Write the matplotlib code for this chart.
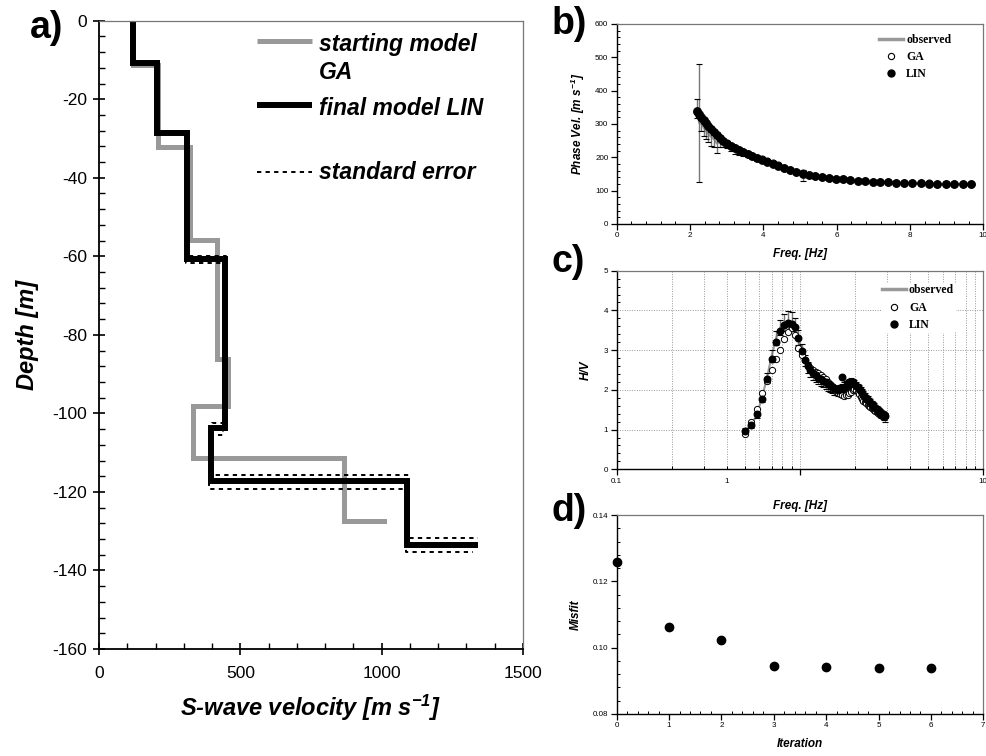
import numpy as np
import matplotlib
matplotlib.use('Agg')
import matplotlib.pyplot as plt
from matplotlib.lines import Line2D
from matplotlib.ticker import MultipleLocator, FixedLocator, LogLocator, NullFormatter, FormatStrFormatter

plt.rcParams['font.family'] = ['Liberation Sans', 'DejaVu Sans']
plt.rcParams['mathtext.default'] = 'regular'
plt.rcParams['axes.unicode_minus'] = False

# ---------------- data ----------------
# a) layered S-wave velocity models (velocity of each layer, depth of interfaces)
ga_vs = [119, 209, 322, 419, 458, 334, 865, 1009]
ga_depth = [11.2, 32.1, 55.8, 86.2, 98.2, 111.4, 127.5]
lin_vs = [119, 204, 310, 444, 395, 1089, 1331]
lin_depth = [10.8, 28.5, 60.7, 103.7, 117.3, 133.6]
errp_vs = [119, 204, 312, 448, 400, 1097, 1342]
errp_depth = [10.8, 28.5, 59.9, 102.5, 115.6, 131.8]
errm_vs = [119, 204, 307, 439, 390, 1085, 1324]
errm_depth = [10.8, 28.5, 61.7, 105.5, 119.2, 135.4]

# b) dispersion curve
freq_b = [2.20, 2.25, 2.31, 2.37, 2.43, 2.50, 2.57, 2.65, 2.73, 2.82,
          2.91, 3.01, 3.11, 3.22, 3.33, 3.45, 3.57, 3.70, 3.83, 3.97,
          4.11, 4.26, 4.41, 4.57, 4.73, 4.90, 5.07, 5.24, 5.42, 5.60,
          5.79, 5.98, 6.17, 6.37, 6.57, 6.77, 6.98, 7.19, 7.40, 7.62,
          7.84, 8.06, 8.29, 8.52, 8.75, 8.98, 9.21, 9.44, 9.67]
vel_lin = [339, 330, 321, 312, 303, 294, 285, 275, 266, 257,
           249, 241, 234, 227, 221, 215, 209, 204, 199, 193,
           187, 181, 175, 168, 162, 156, 151, 147, 144, 141,
           138, 136, 134, 132, 130, 128, 127, 126, 125, 124,
           123, 122, 122, 121, 121, 121, 120, 120, 120]
vel_ga = [336, 328, 319, 310, 302, 293, 284, 275, 266, 258,
          250, 242, 235, 228, 222, 216, 210, 204, 199, 194,
          188, 182, 176, 169, 163, 157, 152, 148, 144, 141,
          139, 136, 134, 132, 130, 129, 127, 126, 125, 124,
          123, 123, 122, 122, 121, 121, 121, 120, 120]
vel_obs = [346, 303, 300, 290, 280, 270, 262, 255, 242, 245,
           240, 236, 228, 220, 214, 210, 205, 200, 196, 191,
           186, 180, 173, 167, 161, 156, 146, 146, 143, 140,
           137, 135, 133, 131, 129, 128, 127, 126, 125, 124,
           123, 122, 122, 121, 121, 121, 121, 120, 120]
vel_err = [29, 178, 20, 25, 25, 25, 28, 25, 30, 15,
           10, 8, 8, 10, 8, 6, 5, 5, 6, 6,
           7, 6, 5, 4, 4, 4, 17, 4, 3, 3,
           3, 3, 3, 3, 3, 3, 3, 3, 3, 5,
           3, 3, 3, 3, 3, 8, 3, 3, 3]

# c) H/V curve
freq_c = [0.50, 0.54, 0.58, 0.62, 0.66, 0.70, 0.74, 0.78, 0.82, 0.86,
          0.90, 0.94, 0.98, 1.02, 1.06, 1.10, 1.14, 1.18, 1.22, 1.26,
          1.30, 1.34, 1.38, 1.42, 1.46, 1.50, 1.54, 1.58, 1.62, 1.66,
          1.70, 1.74, 1.78, 1.82, 1.86, 1.90, 1.94, 1.98, 2.02, 2.06,
          2.10, 2.14, 2.18, 2.22, 2.26, 2.30, 2.34, 2.38, 2.42, 2.46,
          2.50, 2.54, 2.58, 2.62, 2.66, 2.70, 2.74, 2.78, 2.82, 2.86, 2.90]
hv_lin = [0.96, 1.12, 1.40, 1.78, 2.27, 2.78, 3.20, 3.48, 3.63, 3.68,
          3.66, 3.57, 3.30, 2.98, 2.76, 2.60, 2.50, 2.42, 2.37, 2.31,
          2.27, 2.23, 2.19, 2.15, 2.11, 2.08, 2.05, 2.02, 2.00, 2.02,
          2.33, 2.05, 2.09, 2.13, 2.16, 2.18, 2.17, 2.14, 2.10, 2.06,
          2.02, 1.97, 1.93, 1.88, 1.83, 1.78, 1.75, 1.71, 1.68, 1.64,
          1.61, 1.58, 1.55, 1.52, 1.49, 1.46, 1.43, 1.40, 1.38, 1.35, 1.33]
hv_ga = [0.88, 1.20, 1.52, 1.93, 2.22, 2.50, 2.78, 3.00, 3.28, 3.45,
         3.55, 3.38, 3.05, 2.88, 2.76, 2.63, 2.55, 2.49, 2.46, 2.42,
         2.38, 2.32, 2.27, 2.21, 2.15, 2.09, 2.03, 1.98, 1.93, 1.89,
         1.86, 1.85, 1.86, 1.88, 1.91, 1.95, 1.99, 2.02, 2.00, 1.95,
         1.89, 1.83, 1.78, 1.73, 1.69, 1.66, 1.63, 1.60, 1.57, 1.54,
         1.51, 1.49, 1.47, 1.45, 1.43, 1.41, 1.40, 1.39, 1.38, 1.37, 1.36]
hv_obs = [0.97, 1.10, 1.36, 1.80, 2.30, 2.85, 3.30, 3.57, 3.70, 3.74,
          3.72, 3.60, 3.32, 3.00, 2.74, 2.56, 2.46, 2.38, 2.32, 2.27,
          2.22, 2.18, 2.14, 2.10, 2.06, 2.03, 2.00, 1.98, 1.97, 1.99,
          2.03, 2.07, 2.11, 2.14, 2.16, 2.17, 2.15, 2.12, 2.08, 2.04,
          2.00, 1.95, 1.91, 1.86, 1.81, 1.77, 1.73, 1.69, 1.66, 1.62,
          1.59, 1.56, 1.53, 1.50, 1.47, 1.44, 1.41, 1.39, 1.36, 1.34, 1.31]
hv_err = [0.06, 0.07, 0.08, 0.10, 0.12, 0.15, 0.18, 0.20, 0.22, 0.24,
          0.24, 0.22, 0.18, 0.15, 0.14, 0.13, 0.13, 0.12, 0.12, 0.12,
          0.12, 0.12, 0.12, 0.12, 0.12, 0.12, 0.12, 0.12, 0.12, 0.12,
          0.12, 0.12, 0.12, 0.12, 0.12, 0.12, 0.12, 0.12, 0.12, 0.12,
          0.11, 0.11, 0.11, 0.11, 0.11, 0.11, 0.11, 0.11, 0.10, 0.10,
          0.10, 0.10, 0.10, 0.10, 0.10, 0.10, 0.10, 0.10, 0.10, 0.10, 0.12]

# d) misfit
iteration = [0, 1, 2, 3, 4, 5, 6]
misfit = [0.1257, 0.1061, 0.1023, 0.0944, 0.0942, 0.0940, 0.0939]

# ---------------- figure ----------------
W, H = 987, 756
fig = plt.figure(figsize=(W / 100, H / 100), dpi=100)


def rect(l, t, r, b):
    return [l / W, 1 - b / H, (r - l) / W, (b - t) / H]


def profile(vs, depth):
    x, y = [vs[0]], [0.0]
    for i, d in enumerate(depth):
        x += [vs[i], vs[i + 1]]
        y += [-d, -d]
    return x, y


GREY = '#999999'
BOLDIT = dict(fontweight='bold', fontstyle='italic')


def style_spines(ax, lw=1.3):
    for s in ('left', 'bottom'):
        ax.spines[s].set_linewidth(lw)
        ax.spines[s].set_color('black')
    for s in ('top', 'right'):
        ax.spines[s].set_linewidth(0.9)
        ax.spines[s].set_color('#777777')


# ---- panel a ----
axa = fig.add_axes(rect(99, 20.7, 523, 649))
x, y = profile(ga_vs, ga_depth)
axa.plot(x, y, color=GREY, lw=3.6, solid_joinstyle='miter')
x, y = profile(lin_vs, lin_depth)
axa.plot(x, y, color='black', lw=4.3, solid_joinstyle='miter')
for vs, dp in ((errp_vs, errp_depth), (errm_vs, errm_depth)):
    x, y = profile(vs, dp)
    axa.plot(x, y, color='black', lw=1.4, dashes=(2.2, 2.2))
axa.set_xlim(0, 1500)
axa.set_ylim(-160, 0)
axa.xaxis.set_major_locator(MultipleLocator(500))
axa.xaxis.set_minor_locator(MultipleLocator(100))
axa.yaxis.set_major_locator(MultipleLocator(20))
axa.yaxis.set_minor_locator(MultipleLocator(4))
axa.tick_params(which='major', direction='inout', length=9, width=1.2, labelsize=12.5, pad=4)
axa.tick_params(which='minor', direction='in', length=4, width=1.0)
axa.tick_params(axis='x', which='major', pad=8)
style_spines(axa)
axa.set_xlabel(r'S-wave velocity [m s$^{-1}$]', fontsize=17, labelpad=8, **BOLDIT)
axa.set_ylabel('Depth [m]', fontsize=17, labelpad=10, **BOLDIT)

# manual legend of panel a
tr = axa.transAxes
axa.add_line(Line2D([0.3726, 0.502], [0.9677, 0.9677], transform=tr, color=GREY, lw=3.6,
                    solid_capstyle='butt'))
axa.add_line(Line2D([0.3726, 0.502], [0.866, 0.866], transform=tr, color='black', lw=4.3,
                    solid_capstyle='butt'))
axa.add_line(Line2D([0.3726, 0.502], [0.759, 0.759], transform=tr, color='black', lw=1.4,
                    dashes=(2.2, 2.2)))
axa.text(0.519, 0.962, 'starting model', transform=tr, fontsize=16.5, va='center', **BOLDIT)
axa.text(0.519, 0.917, 'GA', transform=tr, fontsize=16.5, va='center', **BOLDIT)
axa.text(0.519, 0.861, 'final model LIN', transform=tr, fontsize=16.5, va='center', **BOLDIT)
axa.text(0.519, 0.759, 'standard error', transform=tr, fontsize=16.5, va='center', **BOLDIT)

# ---- helpers for right panels ----
SMALL = 5.8
LAB = 8.5
SERIF = dict(family='Liberation Serif', weight='bold', size=8.5)


def right_ticks(ax):
    ax.tick_params(which='major', direction='out', length=4, width=0.9, labelsize=SMALL, pad=2)
    ax.tick_params(which='minor', direction='in', length=2.2, width=0.7)
    style_spines(ax, lw=1.0)


def mini_legend(ax, anchor, framed=False):
    handles = [Line2D([], [], color=GREY, lw=2.5),
               Line2D([], [], ls='none', marker='o', ms=4.5, mfc='white', mec='black', mew=0.8),
               Line2D([], [], ls='none', marker='o', ms=5, mfc='black', mec='black')]
    leg = ax.legend(handles, ['observed', 'GA', 'LIN'], loc='upper left', bbox_to_anchor=anchor,
                    prop=SERIF, handlelength=2.0, handletextpad=0.25, labelspacing=0.45,
                    borderpad=0.15, borderaxespad=0, frameon=framed)
    if framed:
        leg.get_frame().set_facecolor('white')
        leg.get_frame().set_edgecolor('none')
        leg.get_frame().set_alpha(1)
    return leg


# ---- panel b ----
axb = fig.add_axes(rect(616.7, 24, 983.3, 224))
axb.plot(freq_b, vel_obs, color=GREY, lw=1.5, zorder=2)
axb.errorbar(freq_b, vel_obs, yerr=vel_err, fmt='none', ecolor='#777777', elinewidth=1.0,
             capsize=0, zorder=2)
axb.errorbar(freq_b, vel_obs, yerr=vel_err, fmt='none', ecolor='black', elinewidth=0,
             capsize=2, capthick=0.8, zorder=2)
axb.plot(freq_b, vel_ga, ls='none', marker='o', ms=5, mfc='white', mec='black', mew=0.8, zorder=3)
axb.plot(freq_b, vel_lin, ls='none', marker='o', ms=5.3, mfc='black', mec='black', zorder=4)
axb.set_xlim(0, 10)
axb.set_ylim(0, 600)
axb.xaxis.set_major_locator(MultipleLocator(2))
axb.xaxis.set_minor_locator(MultipleLocator(0.4))
axb.yaxis.set_major_locator(MultipleLocator(100))
axb.yaxis.set_minor_locator(MultipleLocator(20))
right_ticks(axb)
axb.set_xlabel('Freq. [Hz]', fontsize=LAB, labelpad=6, **BOLDIT)
axb.set_ylabel(r'Phase Vel. [m s$^{-1}$]', fontsize=LAB, labelpad=6, **BOLDIT)
mini_legend(axb, (0.712, 0.96))

# ---- panel c ----
axc = fig.add_axes(rect(616.7, 270.7, 983.3, 469.3))
axc.set_xscale('log')
axc.plot(freq_c, hv_obs, color=GREY, lw=1.5, zorder=2)
axc.errorbar(freq_c, hv_obs, yerr=hv_err, fmt='none', ecolor='#777777', elinewidth=1.0,
             capsize=0, zorder=2)
axc.errorbar(freq_c, hv_obs, yerr=hv_err, fmt='none', ecolor='black', elinewidth=0,
             capsize=2, capthick=0.8, zorder=2)
axc.plot(freq_c, hv_ga, ls='none', marker='o', ms=4.5, mfc='white', mec='black', mew=0.7, zorder=3)
axc.plot(freq_c, hv_lin, ls='none', marker='o', ms=4.7, mfc='black', mec='black', zorder=4)
axc.set_xlim(0.1, 10)
axc.set_ylim(0, 5)
axc.xaxis.set_major_locator(FixedLocator([0.1, 1, 10]))
axc.xaxis.set_minor_locator(LogLocator(base=10, subs=np.arange(2, 10)))
axc.xaxis.set_minor_formatter(NullFormatter())
axc.set_xticklabels(['0.1', '', '10'])
axc.yaxis.set_major_locator(MultipleLocator(1))
axc.yaxis.set_minor_locator(MultipleLocator(0.2))
axc.grid(True, which='both', axis='x', ls=(0, (1, 1.5)), color='#999999', lw=0.7, zorder=0)
axc.grid(True, which='major', axis='y', ls=(0, (1, 1.5)), color='#999999', lw=0.7, zorder=0)
axc.set_axisbelow(True)
right_ticks(axc)
axc.text(0.4, -0.045, '1', transform=axc.get_xaxis_transform(), ha='center', va='top',
         fontsize=SMALL)
axc.set_xlabel('Freq. [Hz]', fontsize=LAB, labelpad=11, **BOLDIT)
axc.set_ylabel('H/V', fontsize=LAB, labelpad=9, **BOLDIT)
mini_legend(axc, (0.72, 0.94), framed=True)

# ---- panel d ----
axd = fig.add_axes(rect(616.7, 515, 983.3, 714))
axd.plot(iteration, misfit, ls='none', marker='o', ms=6, mfc='black', mec='black', clip_on=False,
         zorder=5)
axd.set_xlim(0, 7)
axd.set_ylim(0.08, 0.14)
axd.xaxis.set_major_locator(MultipleLocator(1))
axd.xaxis.set_minor_locator(MultipleLocator(0.2))
axd.yaxis.set_major_locator(MultipleLocator(0.02))
axd.yaxis.set_minor_locator(MultipleLocator(0.004))
axd.yaxis.set_major_formatter(FormatStrFormatter('%.2f'))
right_ticks(axd)
axd.set_xlabel('Iteration', fontsize=LAB, labelpad=6, **BOLDIT)
axd.set_ylabel('Misfit', fontsize=LAB, labelpad=8, **BOLDIT)

# panel letters
fig.text(30 / W, 1 - 28 / H, 'a)', fontsize=27, fontweight='bold', va='center', ha='left')
fig.text(552 / W, 1 - 24 / H, 'b)', fontsize=27, fontweight='bold', va='center', ha='left')
fig.text(552 / W, 1 - 262 / H, 'c)', fontsize=27, fontweight='bold', va='center', ha='left')
fig.text(552 / W, 1 - 511 / H, 'd)', fontsize=27, fontweight='bold', va='center', ha='left')

fig.savefig('out.png', dpi=100)
